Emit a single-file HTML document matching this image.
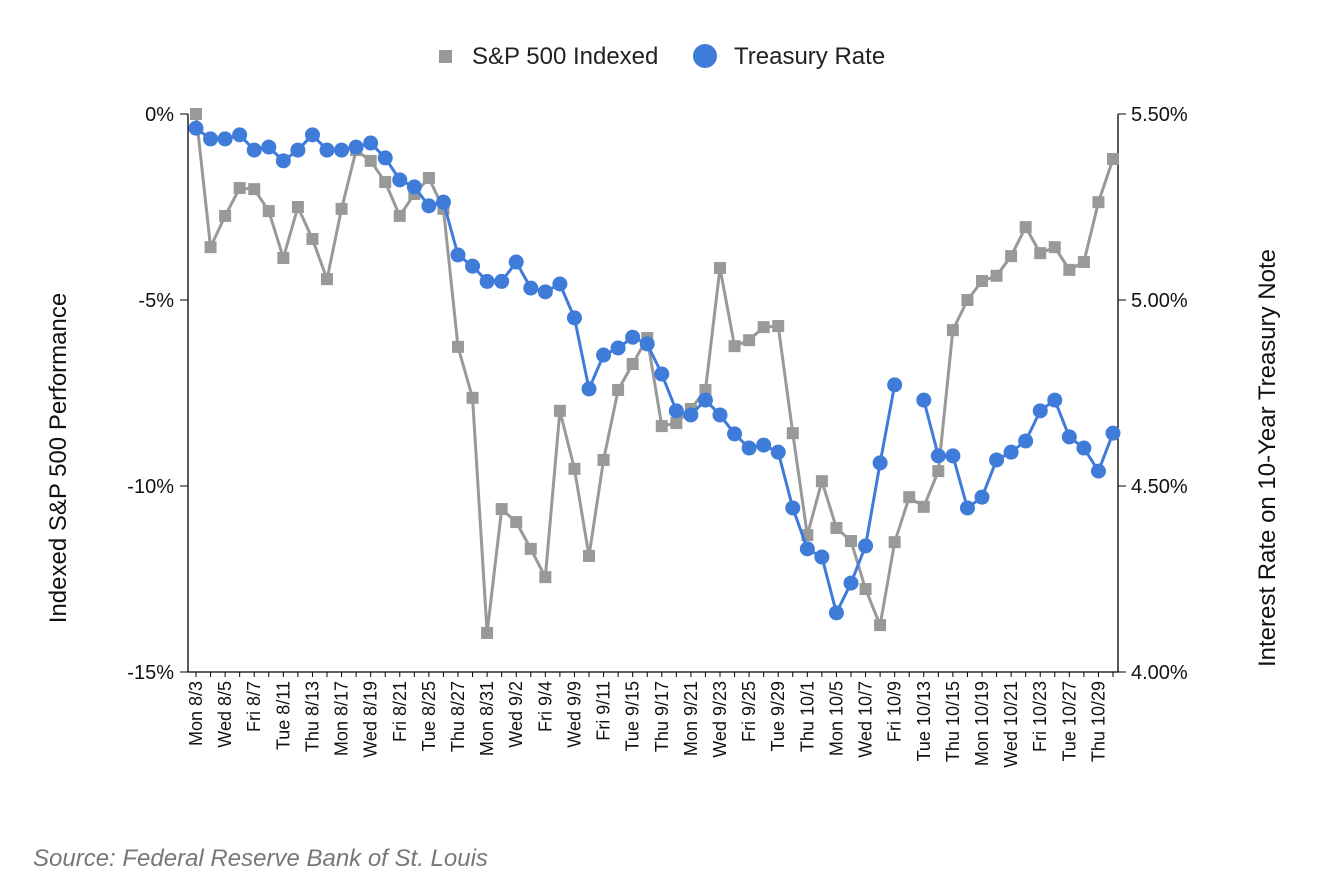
<!DOCTYPE html>
<html><head><meta charset="utf-8"><style>
body{margin:0;background:#fff;}
svg{display:block;font-family:"Liberation Sans",Arial,sans-serif;}
</style></head><body>
<svg id="chart" width="1322" height="894">
<g>
<rect x="439" y="50" width="13" height="13" fill="#999"/>
<text x="472" y="64" font-size="24" fill="#222">S&amp;P 500 Indexed</text>
<circle cx="705" cy="56" r="12" fill="#3f7bd8"/>
<text x="734" y="64" font-size="24" fill="#222">Treasury Rate</text>
</g>
<g id="axes"></g>
<g id="series"></g>
<text x="0" y="0" transform="translate(66,458) rotate(-90)" text-anchor="middle" font-size="24" fill="#111">Indexed S&amp;P 500 Performance</text>
<text x="0" y="0" transform="translate(1275,458) rotate(-90)" text-anchor="middle" font-size="24" fill="#111">Interest Rate on 10-Year Treasury Note</text>
<text x="33" y="866" font-size="24" font-style="italic" fill="#777">Source: Federal Reserve Bank of St. Louis</text>
</svg>
<script>
const dates=["Mon 8/3","Tue 8/4","Wed 8/5","Thu 8/6","Fri 8/7","Mon 8/10","Tue 8/11","Wed 8/12","Thu 8/13","Fri 8/14","Mon 8/17","Tue 8/18","Wed 8/19","Thu 8/20","Fri 8/21","Mon 8/24","Tue 8/25","Wed 8/26","Thu 8/27","Fri 8/28","Mon 8/31","Tue 9/1","Wed 9/2","Thu 9/3","Fri 9/4","Tue 9/8","Wed 9/9","Thu 9/10","Fri 9/11","Mon 9/14","Tue 9/15","Wed 9/16","Thu 9/17","Fri 9/18","Mon 9/21","Tue 9/22","Wed 9/23","Thu 9/24","Fri 9/25","Mon 9/28","Tue 9/29","Wed 9/30","Thu 10/1","Fri 10/2","Mon 10/5","Tue 10/6","Wed 10/7","Thu 10/8","Fri 10/9","Mon 10/12","Tue 10/13","Wed 10/14","Thu 10/15","Fri 10/16","Mon 10/19","Tue 10/20","Wed 10/21","Thu 10/22","Fri 10/23","Mon 10/26","Tue 10/27","Wed 10/28","Thu 10/29","Fri 10/30"];
const sp500=[0,-3.58,-2.74,-1.99,-2.02,-2.61,-3.87,-2.5,-3.36,-4.44,-2.55,-0.97,-1.26,-1.83,-2.74,-2.15,-1.72,-2.55,-6.26,-7.63,-13.95,-10.62,-10.97,-11.69,-12.45,-7.98,-9.54,-11.88,-9.3,-7.42,-6.72,-6.02,-8.39,-8.31,-7.93,-7.42,-4.14,-6.24,-6.08,-5.73,-5.7,-8.58,-11.32,-9.87,-11.13,-11.48,-12.77,-13.74,-11.51,-10.3,-10.56,-9.6,-5.81,-5.0,-4.49,-4.35,-3.82,-3.04,-3.74,-3.58,-4.19,-3.98,-2.37,-1.21];
const treasury=[5.462,5.433,5.433,5.444,5.403,5.411,5.374,5.403,5.444,5.403,5.403,5.411,5.422,5.382,5.323,5.304,5.253,5.263,5.121,5.091,5.05,5.05,5.102,5.032,5.022,5.043,4.952,4.761,4.852,4.871,4.9,4.882,4.801,4.702,4.691,4.731,4.691,4.64,4.602,4.61,4.591,4.441,4.331,4.309,4.159,4.239,4.339,4.562,4.772,null,4.731,4.581,4.581,4.441,4.47,4.57,4.591,4.621,4.702,4.731,4.632,4.602,4.54,4.642];
const leftTicks=[0,-5,-10,-15];
const leftTickLabels=["0%","-5%","-10%","-15%"];
const rightTicks=[5.5,5.0,4.5,4.0];
const rightTickLabels=["5.50%","5.00%","4.50%","4.00%"];

const X0=196,X1=1113,TOP=114,BOT=672,LEFT=188,RIGHT=1118;
const ns="http://www.w3.org/2000/svg";
const xs=i=>X0+(X1-X0)*i/(dates.length-1);
const yl=v=>TOP+(0-v)/15*(BOT-TOP);
const yr=v=>TOP+(5.5-v)/1.5*(BOT-TOP);
function mk(tag,attrs,parent){const e=document.createElementNS(ns,tag);for(const k in attrs)e.setAttribute(k,attrs[k]);parent.appendChild(e);return e;}
const axes=document.getElementById('axes'),series=document.getElementById('series');

let e=mk('line',{x1:LEFT,y1:TOP,x2:LEFT,y2:BOT,stroke:'#000','stroke-width':1.3},axes);


e=mk('line',{x1:RIGHT,y1:TOP,x2:RIGHT,y2:BOT,stroke:'#000','stroke-width':1.3},axes);


e=mk('line',{x1:LEFT,y1:BOT,x2:RIGHT,y2:BOT,stroke:'#000','stroke-width':1.3},axes);



leftTicks.forEach((v,i)=>{const y=yl(v);
 mk('line',{x1:LEFT-8,y1:y,x2:LEFT,y2:y,stroke:'#000'},axes);
 const t=mk('text',{x:LEFT-14,y:y+7,'text-anchor':'end','font-size':20,fill:'#111'},axes);t.textContent=leftTickLabels[i];
 
 
});
rightTicks.forEach((v,i)=>{const y=yr(v);
 mk('line',{x1:RIGHT,y1:y,x2:RIGHT+8,y2:y,stroke:'#000'},axes);
 const t=mk('text',{x:RIGHT+13,y:y+7,'font-size':20,fill:'#111'},axes);t.textContent=rightTickLabels[i];
 
 
});
dates.forEach((d,i)=>{const x=xs(i);
 mk('line',{x1:x,y1:BOT,x2:x,y2:BOT+5,stroke:'#000'},axes);
 if(i%2===0){const t=mk('text',{transform:`translate(${x+6},${BOT+9}) rotate(-90)`,'text-anchor':'end','font-size':18,fill:'#111'},axes);t.textContent=d;
 
 }
});

function path(vals,yf){let d='',pen=false;vals.forEach((v,i)=>{if(v===null){pen=false;return;}d+=(pen?'L':'M')+xs(i)+','+yf(v);pen=true;});return d;}
e=mk('path',{d:path(sp500,yl),fill:'none',stroke:'#999','stroke-width':3,'stroke-linejoin':'round'},series);


sp500.forEach((v,i)=>{const m=mk('rect',{x:xs(i)-6,y:yl(v)-6,width:12,height:12,fill:'#999'},series);
 
 });
e=mk('path',{d:path(treasury,yr),fill:'none',stroke:'#3f7bd8','stroke-width':3,'stroke-linejoin':'round'},series);


treasury.forEach((v,i)=>{if(v===null)return;const m=mk('circle',{cx:xs(i),cy:yr(v),r:7.5,fill:'#3f7bd8'},series);
 
 });
</script>
</body></html>
